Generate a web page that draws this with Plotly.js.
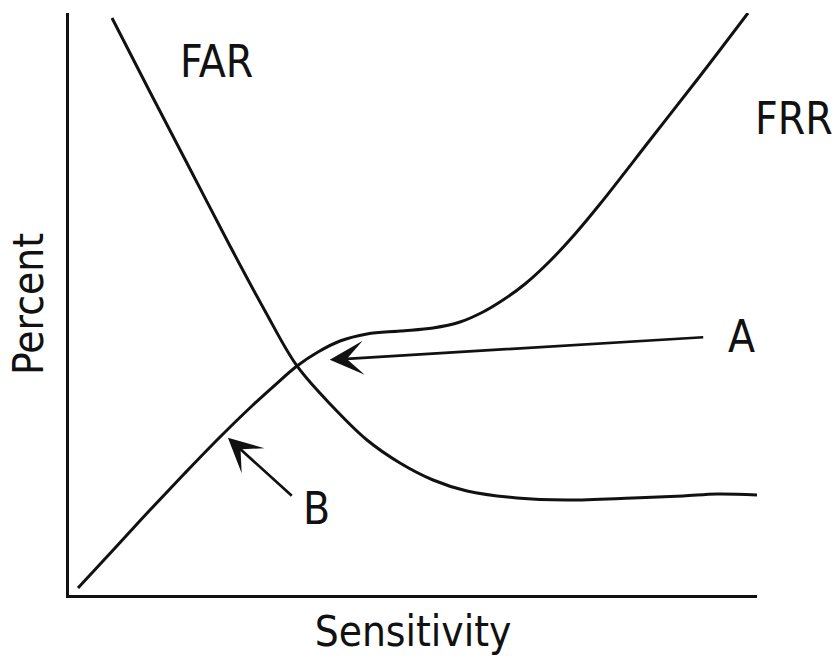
<!DOCTYPE html>
<html>
<head>
<meta charset="utf-8">
<script src="https://cdn.plot.ly/plotly-3.0.1.min.js"></script>
<style>
  html, body { margin: 0; padding: 0; background: #fff; }
  #chart { width: 836px; height: 657px; }
</style>
</head>
<body>
<div id="chart"></div>
<script>
// Sensitivity (x, 0-100) and Percent (y, 0-100)
var farX = [6.25, 11.77, 17.59, 23.40, 28.49, 33.14, 38.37, 43.31, 48.11, 52.91, 57.85, 65.12, 72.38, 81.98, 89.24, 94.19, 100];
var farY = [99.14, 86.43, 73.20, 59.97, 48.80, 39.35, 32.30, 26.63, 22.68, 19.76, 17.87, 16.67, 16.32, 16.67, 17.01, 17.35, 17.18];

var frrX = [1.31, 6.69, 11.77, 16.86, 21.95, 26.74, 29.94, 33.14, 36.19, 39.39, 43.31, 48.11, 52.91, 56.83, 60.17, 63.08, 66.28, 69.91, 73.55, 77.18, 84.45, 91.72, 98.69];
var frrY = [1.20, 8.08, 14.60, 20.96, 27.15, 32.65, 36.08, 39.35, 41.75, 43.64, 44.85, 45.36, 45.88, 46.91, 48.63, 50.69, 53.44, 57.39, 62.03, 67.18, 78.18, 89.18, 100.0];

var curveLabels = ["FAR", "FRR"];
var curveLabelX = [21.4, 105.4];
var curveLabelY = [91.6, 81.8];

var pointerLabels = ["A", "B"];
var pointerTipX = [37.9, 23.1];
var pointerTipY = [40.4, 27.0];
var pointerTailX = [92.4, 32.6];
var pointerTailY = [44.3, 16.8];
var pointerTextX = [97.8, 36.0];
var pointerTextY = [44.4, 14.9];

var xTitle = "Sensitivity";
var yTitle = "Percent";

var FONT = '"DejaVu Sans Condensed", "Liberation Sans Narrow", "Arial Narrow", sans-serif';
var INK = '#111111';

var traces = [
  { x: farX, y: farY, name: "FAR", mode: 'lines', line: { color: INK, width: 3, shape: 'spline', smoothing: 1 }, cliponaxis: false, hoverinfo: 'skip' },
  { x: frrX, y: frrY, name: "FRR", mode: 'lines', line: { color: INK, width: 3, shape: 'spline', smoothing: 1 }, cliponaxis: false, hoverinfo: 'skip' }
];

var annotations = [];
for (var i = 0; i < curveLabels.length; i++) {
  annotations.push({ x: curveLabelX[i] / 100, y: curveLabelY[i] / 100, xref: 'paper', yref: 'paper', xanchor: 'center', yanchor: 'middle', text: curveLabels[i], showarrow: false, font: { family: FONT, size: 44, color: INK } });
}
for (var j = 0; j < pointerLabels.length; j++) {
  annotations.push({ x: pointerTipX[j], y: pointerTipY[j], xref: 'x', yref: 'y', ax: pointerTailX[j], ay: pointerTailY[j], axref: 'x', ayref: 'y', text: '', showarrow: true, arrowhead: 3, arrowsize: 2.1, arrowwidth: 2.7, arrowcolor: INK, standoff: 0, startstandoff: 0 });
  annotations.push({ x: pointerTextX[j] / 100, y: pointerTextY[j] / 100, xref: 'paper', yref: 'paper', xanchor: 'center', yanchor: 'middle', text: pointerLabels[j], showarrow: false, font: { family: FONT, size: 44, color: INK } });
}

var layout = {
  width: 836, height: 657,
  margin: { l: 69, r: 79, t: 13, b: 62 },
  paper_bgcolor: '#fff', plot_bgcolor: '#fff',
  showlegend: false,
  xaxis: { range: [0, 100], showgrid: false, zeroline: false, showticklabels: false, ticks: '', showline: true, linewidth: 3, linecolor: INK, fixedrange: true,
           title: { text: xTitle, font: { family: FONT, size: 42, color: INK }, standoff: 20 } },
  yaxis: { range: [0, 100], showgrid: false, zeroline: false, showticklabels: false, ticks: '', showline: true, linewidth: 3, linecolor: INK, fixedrange: true,
           title: { text: yTitle, font: { family: FONT, size: 42, color: INK }, standoff: 10 } },
  annotations: annotations
};

Plotly.newPlot('chart', traces, layout, { staticPlot: true, displayModeBar: false });
</script>
</body>
</html>
